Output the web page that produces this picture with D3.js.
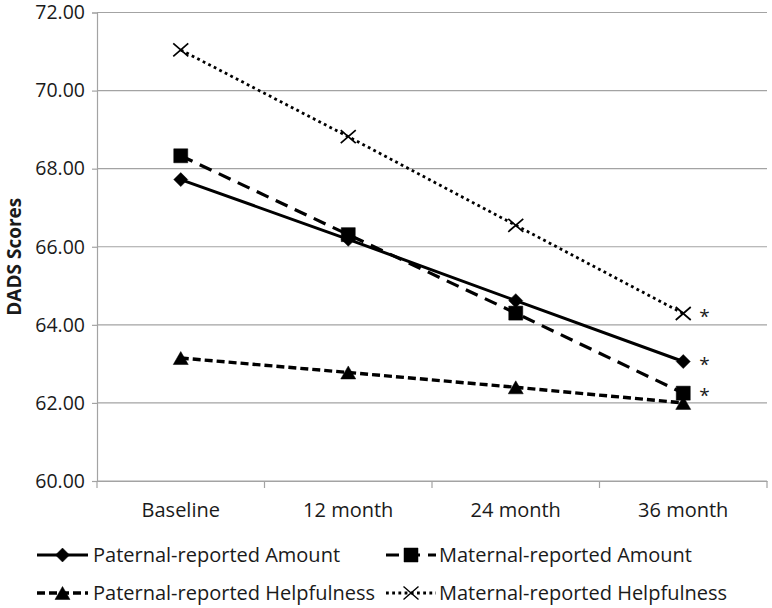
<!DOCTYPE html>
<html>
<head>
<meta charset="utf-8">
<script src="https://cdn.jsdelivr.net/npm/d3@7"></script>
<style>
  html, body { margin: 0; padding: 0; background: #fff; }
  svg { display: block; }
  text { font-family: "Open Sans", "Noto Sans", sans-serif; fill: #1a1a1a; }
</style>
</head>
<body>
<svg id="chart" width="772" height="608"></svg>
<script>
// ---- data ----
const categories = ["Baseline", "12 month", "24 month", "36 month"];
const seriesNames = [
  "Paternal-reported Amount",
  "Maternal-reported Amount",
  "Paternal-reported Helpfulness",
  "Maternal-reported Helpfulness"
];
const paternalAmount      = [67.72, 66.19, 64.62, 63.06];
const maternalAmount      = [68.33, 66.31, 64.30, 62.25];
const paternalHelpfulness = [63.15, 62.78, 62.40, 62.00];
const maternalHelpfulness = [71.04, 68.82, 66.55, 64.29];
// significance flag at last time point (asterisk)
const significant = [true, true, false, true];
const yTicks = [60, 62, 64, 66, 68, 70, 72];
const yTitle = "DADS Scores";

// ---- layout ----
const svg = d3.select("#chart");
const plot = { left: 97, right: 767, top: 12.5, bottom: 481 };

const x = d3.scaleBand().domain(categories).range([plot.left, plot.right]).padding(0);
const y = d3.scaleLinear().domain([60, 72]).range([plot.bottom, plot.top]);
const cx = c => x(c) + x.bandwidth() / 2;

const gridColor = "#a3a3a3";

// gridlines
svg.append("g").selectAll("line").data(yTicks).join("line")
  .attr("x1", plot.left).attr("x2", plot.right)
  .attr("y1", d => y(d)).attr("y2", d => y(d))
  .attr("stroke", gridColor).attr("stroke-width", 1.2);

// y axis
const yAxis = svg.append("g")
  .attr("transform", `translate(${plot.left},0)`)
  .call(d3.axisLeft(y).tickValues(yTicks).tickFormat(d3.format(".2f")).tickSize(5).tickPadding(7));
yAxis.select(".domain").attr("stroke", gridColor).attr("stroke-width", 1.2);
yAxis.selectAll(".tick line").attr("stroke", gridColor).attr("stroke-width", 1.2);
yAxis.selectAll("text").attr("font-size", 19.5).attr("fill", "#1a1a1a")
  .style("font-family", "'Open Sans', sans-serif");

// x axis
const xAxis = svg.append("g")
  .attr("transform", `translate(0,${plot.bottom})`)
  .call(d3.axisBottom(x).tickSize(0).tickPadding(22));
xAxis.select(".domain").attr("stroke", gridColor).attr("stroke-width", 1.2);
xAxis.selectAll("text").attr("font-size", 20).attr("fill", "#1a1a1a")
  .style("font-family", "'Open Sans', sans-serif");
// tick marks at band boundaries
const boundaries = categories.map(c => x(c)).concat([x(categories[categories.length - 1]) + x.bandwidth()]);
svg.append("g").selectAll("line").data(boundaries).join("line")
  .attr("x1", d => d).attr("x2", d => d)
  .attr("y1", plot.bottom).attr("y2", plot.bottom + 7)
  .attr("stroke", gridColor).attr("stroke-width", 1.2);

// y title
svg.append("text")
  .attr("transform", `translate(21,${(plot.top + plot.bottom) / 2 + 10}) rotate(-90)`)
  .attr("text-anchor", "middle")
  .attr("font-size", 19).attr("font-weight", "bold")
  .text(yTitle);

// ---- markers ----
function markerPath(type) {
  switch (type) {
    case "diamond": return "M0,-7L7,0L0,7L-7,0Z";
    case "square": return "M-7,-7H7V7H-7Z";
    case "triangle": return "M0,-6.5L7.5,6.5L-7.5,6.5Z";
    case "x": return "M-7.5,-6.5L7.5,6.5M-7.5,6.5L7.5,-6.5";
  }
}

const series = [
  { name: seriesNames[0], values: paternalAmount, marker: "diamond", dash: null, width: 3 },
  { name: seriesNames[1], values: maternalAmount, marker: "square", dash: "13,8", width: 3.2 },
  { name: seriesNames[2], values: paternalHelpfulness, marker: "triangle", dash: "8,4", width: 3.4 },
  { name: seriesNames[3], values: maternalHelpfulness, marker: "x", dash: "2.8,3.4", width: 2.8 }
];

const line = d3.line().x(d => cx(d.c)).y(d => y(d.v));

series.forEach((s, i) => {
  const pts = s.values.map((v, j) => ({ c: categories[j], v }));
  svg.append("path").datum(pts)
    .attr("d", line)
    .attr("fill", "none").attr("stroke", "#000")
    .attr("stroke-width", s.width)
    .attr("stroke-dasharray", s.dash);
  svg.append("g").selectAll("path").data(pts).join("path")
    .attr("transform", d => `translate(${cx(d.c)},${y(d.v)})`)
    .attr("d", markerPath(s.marker))
    .attr("fill", s.marker === "x" ? "none" : "#000")
    .attr("stroke", "#000")
    .attr("stroke-width", s.marker === "x" ? 1.7 : 0.5);
  if (significant[i]) {
    const last = pts[pts.length - 1];
    svg.append("text")
      .attr("x", cx(last.c) + 16)
      .attr("y", y(last.v) + 9)
      .attr("font-size", 19)
      .text("*");
  }
});

// ---- legend ----
const legendPos = [
  { x0: 37, x1: 88, tx: 93, y: 555 },
  { x0: 386, x1: 436, tx: 439, y: 555 },
  { x0: 37, x1: 88, tx: 93, y: 593 },
  { x0: 386, x1: 436, tx: 439, y: 593 }
];
series.forEach((s, i) => {
  const p = legendPos[i];
  const g = svg.append("g");
  g.append("line")
    .attr("x1", p.x0).attr("x2", p.x1).attr("y1", p.y).attr("y2", p.y)
    .attr("stroke", "#000").attr("stroke-width", s.width)
    .attr("stroke-dasharray", s.dash);
  g.append("path")
    .attr("transform", `translate(${(p.x0 + p.x1) / 2},${p.y})`)
    .attr("d", markerPath(s.marker))
    .attr("fill", s.marker === "x" ? "none" : "#000")
    .attr("stroke", "#000")
    .attr("stroke-width", s.marker === "x" ? 1.4 : 0.5);
  g.append("text")
    .attr("x", p.tx).attr("y", p.y)
    .attr("dy", "0.35em")
    .attr("font-size", 20)
    .text(s.name);
});
</script>
</body>
</html>
